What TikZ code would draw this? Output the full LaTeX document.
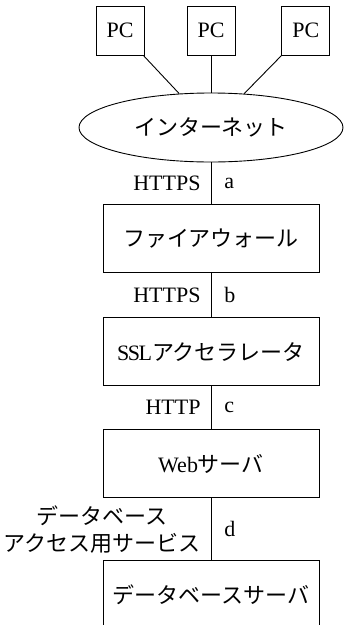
\documentclass[tikz,border=0pt]{standalone}
\usepackage{fontspec}
\setmainfont{Liberation Serif}
\newfontfamily\jpfont{Noto Sans CJK JP}
\usetikzlibrary{positioning,shapes.geometric}

\begin{document}
\begin{tikzpicture}
[x=1pt,y=1pt,node distance=44pt,line width=0.9pt,font=\fontsize{22}{27}\selectfont]
\tikzstyle{pc}=[rectangle,draw,minimum width=48pt,minimum height=49pt,inner sep=0pt]
\tikzstyle{cloud}=[ellipse,draw,minimum width=264pt,minimum height=69pt,inner sep=0pt]
\tikzstyle{srv}=[rectangle,draw,minimum width=216pt,minimum height=68pt,inner sep=0pt]
\tikzstyle{jp}=[font=\fontsize{22}{27}\selectfont\jpfont]
\tikzstyle{proto}=[left,inner sep=0pt,xshift=-10pt,align=center]
\tikzstyle{tag}=[right,inner sep=0pt,xshift=13pt]

\useasboundingbox (0,0) rectangle (344,-625);

\node[cloud,jp] (inet) at (211,-127.5) {インターネット};
\node[pc] (pc_2) [above=37pt of inet] {PC};
\node[pc] (pc_1) [left=42pt of pc_2] {PC};
\node[pc] (pc_3) [right=46pt of pc_2] {PC};

\node[srv,jp] (fw) [below=42pt of inet] {ファイアウォール};
\node[srv] (ssl) [below=44pt of fw] {S\kern-1.5ptS\kern-1.5ptL{\jpfont アクセラレータ}};
\node[srv] (web) [below=43pt of ssl] {Web{\jpfont サーバ}};
\node[srv,jp] (db) [below=62pt of web] {データベースサーバ};

% PCs to the internet
\draw (pc_1) -- (inet);
\draw (pc_2) -- (inet);
\draw (pc_3) -- (inet);

% links down the chain
\draw (inet) -- node[proto] {HTTPS} node[tag] {a} (fw);
\draw (fw) -- node[proto] {HTTPS} node[tag] {b} (ssl);
\draw (ssl) -- node[proto] {HTTP} node[tag] {c} (web);
\draw (web) -- node[proto,jp] {データベース\\アクセス用サービス} node[tag] {d} (db);
\end{tikzpicture}
\end{document}
